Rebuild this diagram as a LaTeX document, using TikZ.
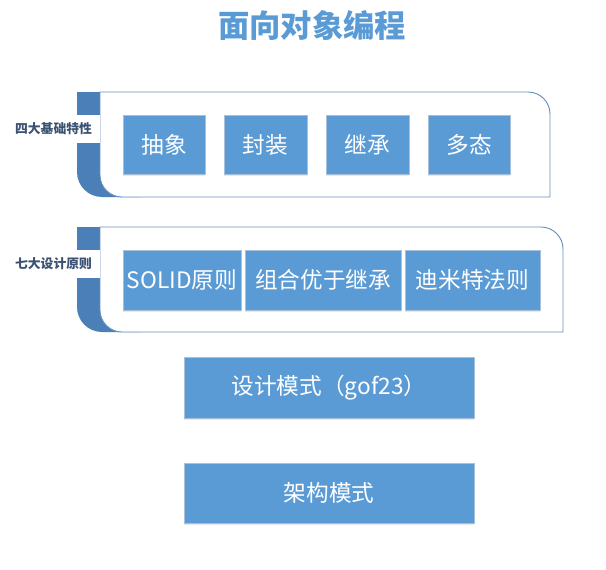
\documentclass[tikz,border=0pt]{standalone}
\usepackage{fontspec}
\setmainfont{Noto Sans CJK SC}
\usetikzlibrary{shadows}
\definecolor{boxblue}{HTML}{5B9BD5}
\definecolor{boxedge}{HTML}{A9C0DA}
\definecolor{band}{HTML}{4A7FB8}
\definecolor{frame}{HTML}{6690BF}
\definecolor{labtext}{HTML}{3B5273}
\tikzset{
  item/.style n args={2}{draw=boxedge, line width=0.6pt, fill=boxblue, text=white, inner sep=0pt,
    minimum width={#1*0.75pt}, minimum height={#2*0.75pt},
    font=\fontsize{17}{19}\selectfont,
    drop shadow={opacity=0.18, shadow xshift=0pt, shadow yshift=-1.2pt}},
  grouplabel/.style={text=labtext, font=\fontsize{9.6}{11}\selectfont\bfseries, inner sep=0pt},
  container/.style={draw=frame, line width=0.7pt, fill=white},
}
\begin{document}
\begin{tikzpicture}[x=0.75pt,y=0.75pt]
\useasboundingbox (0,0) rectangle (606,569);
% title
\node[text=boxblue, font=\fontsize{23.5}{26}\selectfont\bfseries] (title) at (312,544) {面向对象编程};

% group 1
\fill[band] (77,477) -- (140,477) -- (140,372) -- (102,372) arc[start angle=270,end angle=180,radius=25] -- cycle;
\path[container] (100,477) -- (528,477) arc[start angle=90,end angle=0,radius=22] -- (550,372) -- (122,372) arc[start angle=270,end angle=180,radius=22] -- cycle;
\fill[white] (8,454) rectangle (100,426);
\node[grouplabel] (g1) at (53.5,440) {四大基础特性};
\node[item={82}{59}] (a1) at (164,424.5) {抽象};
\node[item={83}{59}] (a2) at (265.5,424.5) {封装};
\node[item={83}{59}] (a3) at (367.5,424.5) {继承};
\node[item={82}{59}] (a4) at (469,424.5) {多态};

% group 2
\fill[band] (77,342) -- (140,342) -- (140,237) -- (102,237) arc[start angle=270,end angle=180,radius=25] -- cycle;
\path[container] (100,342) -- (541,342) arc[start angle=90,end angle=0,radius=22] -- (563,237) -- (122,237) arc[start angle=270,end angle=180,radius=22] -- cycle;
\fill[white] (8,319) rectangle (100,291);
\node[grouplabel] (g2) at (53.5,305) {七大设计原则};
\node[item={118}{60}] (b1) at (182,289) {SOLID原则};
\node[item={156}{60}] (b2) at (323,289) {组合优于继承};
\node[item={135}{60}] (b3) at (472.5,289) {迪米特法则};

% single boxes
\node[item={290}{61}] (c1) at (329,181.5) {设计模式（gof23）};
\node[item={290}{60}] (c2) at (329,76) {架构模式};
\end{tikzpicture}
\end{document}
